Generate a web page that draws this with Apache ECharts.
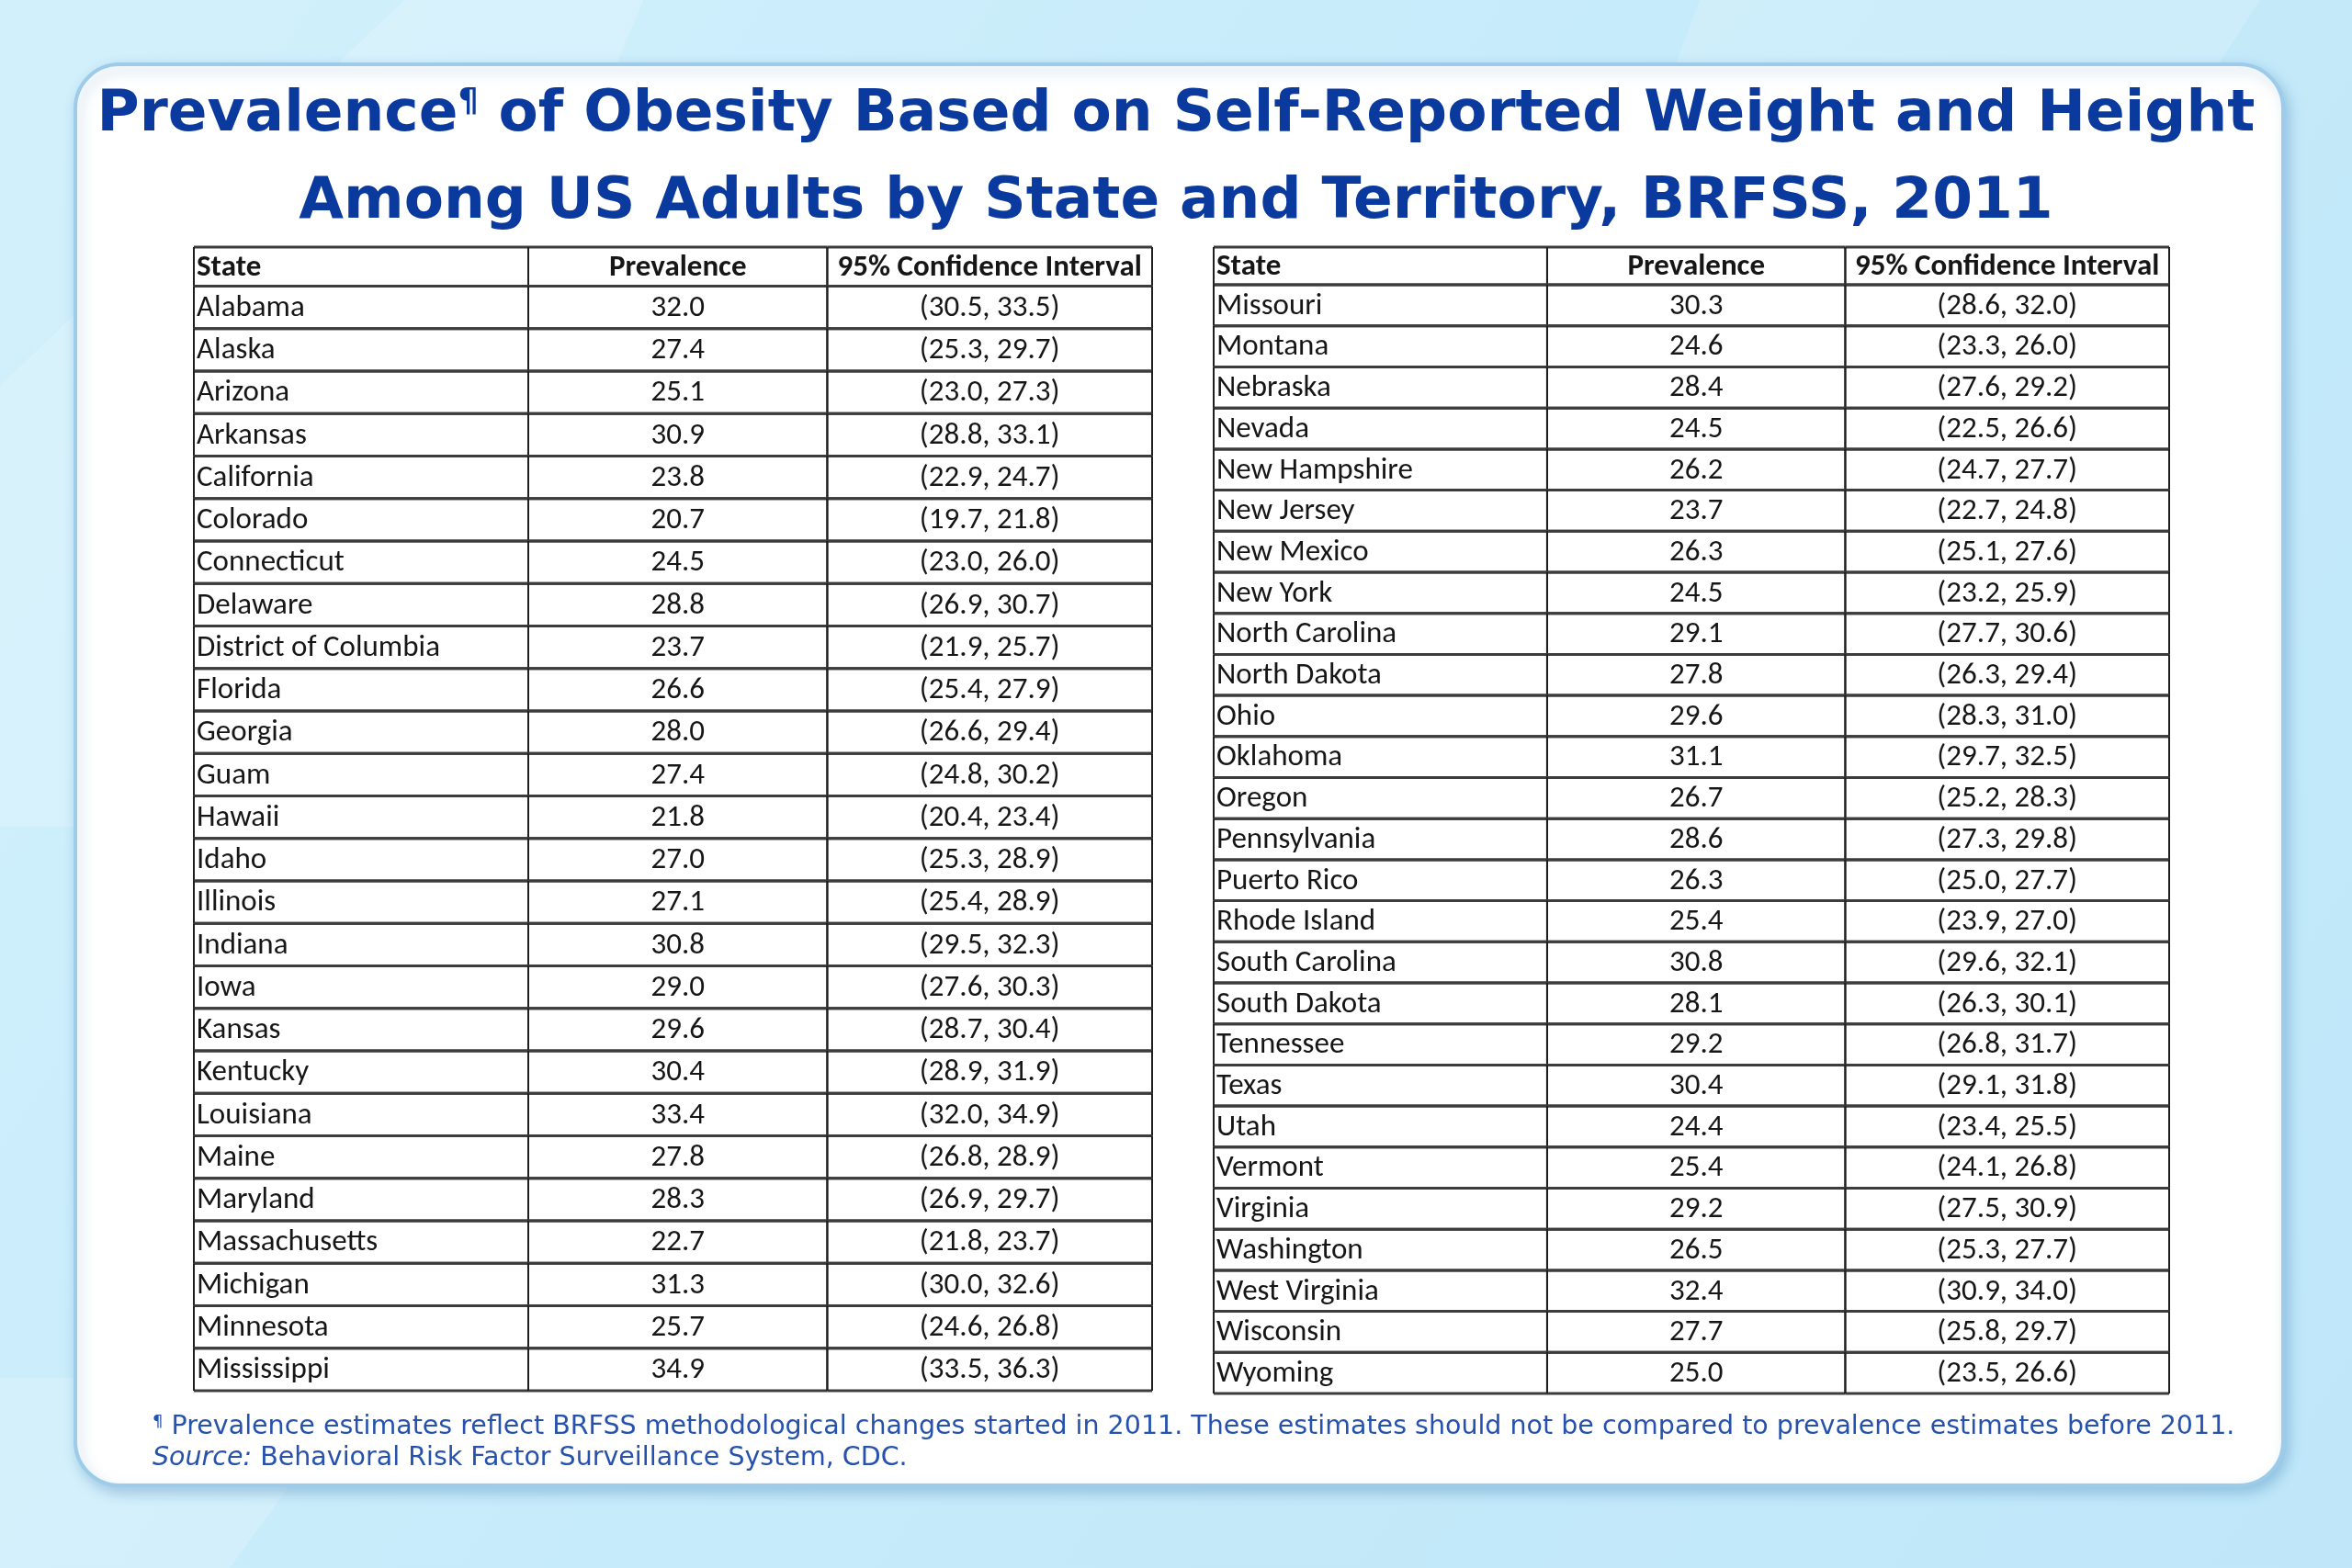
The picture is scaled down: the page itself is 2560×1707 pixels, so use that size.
<!DOCTYPE html>
<html>
<head>
<meta charset="utf-8">
<title>Prevalence of Obesity by State and Territory, BRFSS, 2011</title>
<script src="https://cdn.jsdelivr.net/npm/echarts@6/dist/echarts.min.js"></script>
<style>
  html, body { margin: 0; padding: 0; background: #c8ecfa; }
  #chart { width: 2560px; height: 1707px; }
</style>
</head>
<body>
<div id="chart"></div>
<script type="text/javascript">
// column titles of both tables
var headers = ['State', 'Prevalence', '95% Confidence Interval'];

// left table: Alabama .. Mississippi
var leftStates = ['Alabama', 'Alaska', 'Arizona', 'Arkansas', 'California', 'Colorado',
    'Connecticut', 'Delaware', 'District of Columbia', 'Florida', 'Georgia', 'Guam',
    'Hawaii', 'Idaho', 'Illinois', 'Indiana', 'Iowa', 'Kansas', 'Kentucky', 'Louisiana',
    'Maine', 'Maryland', 'Massachusetts', 'Michigan', 'Minnesota', 'Mississippi'];
var leftPrev = [32.0, 27.4, 25.1, 30.9, 23.8, 20.7, 24.5, 28.8, 23.7, 26.6, 28.0, 27.4,
    21.8, 27.0, 27.1, 30.8, 29.0, 29.6, 30.4, 33.4, 27.8, 28.3, 22.7, 31.3, 25.7, 34.9];
var leftLow = [30.5, 25.3, 23.0, 28.8, 22.9, 19.7, 23.0, 26.9, 21.9, 25.4, 26.6, 24.8,
    20.4, 25.3, 25.4, 29.5, 27.6, 28.7, 28.9, 32.0, 26.8, 26.9, 21.8, 30.0, 24.6, 33.5];
var leftHigh = [33.5, 29.7, 27.3, 33.1, 24.7, 21.8, 26.0, 30.7, 25.7, 27.9, 29.4, 30.2,
    23.4, 28.9, 28.9, 32.3, 30.3, 30.4, 31.9, 34.9, 28.9, 29.7, 23.7, 32.6, 26.8, 36.3];

// right table: Missouri .. Wyoming
var rightStates = ['Missouri', 'Montana', 'Nebraska', 'Nevada', 'New Hampshire', 'New Jersey',
    'New Mexico', 'New York', 'North Carolina', 'North Dakota', 'Ohio', 'Oklahoma', 'Oregon',
    'Pennsylvania', 'Puerto Rico', 'Rhode Island', 'South Carolina', 'South Dakota',
    'Tennessee', 'Texas', 'Utah', 'Vermont', 'Virginia', 'Washington', 'West Virginia',
    'Wisconsin', 'Wyoming'];
var rightPrev = [30.3, 24.6, 28.4, 24.5, 26.2, 23.7, 26.3, 24.5, 29.1, 27.8, 29.6, 31.1, 26.7,
    28.6, 26.3, 25.4, 30.8, 28.1, 29.2, 30.4, 24.4, 25.4, 29.2, 26.5, 32.4, 27.7, 25.0];
var rightLow = [28.6, 23.3, 27.6, 22.5, 24.7, 22.7, 25.1, 23.2, 27.7, 26.3, 28.3, 29.7, 25.2,
    27.3, 25.0, 23.9, 29.6, 26.3, 26.8, 29.1, 23.4, 24.1, 27.5, 25.3, 30.9, 25.8, 23.5];
var rightHigh = [32.0, 26.0, 29.2, 26.6, 27.7, 24.8, 27.6, 25.9, 30.6, 29.4, 31.0, 32.5, 28.3,
    29.8, 27.7, 27.0, 32.1, 30.1, 31.7, 31.8, 25.5, 26.8, 30.9, 27.7, 34.0, 29.7, 26.6];

var titleLine1 = 'of Obesity Based on Self-Reported Weight and Height';
var titleLine2 = 'Among US Adults by State and Territory, BRFSS, 2011';
var footNote = 'Prevalence estimates reflect BRFSS methodological changes started in 2011. These estimates should not be compared to prevalence estimates before 2011.';
var sourceNote = ' Behavioral Risk Factor Surveillance System, CDC.';

// layout
var COL_EDGES = [0, 0.349, 0.661, 1];   // column boundaries as share of table width
var HEADER_H = 0.92;                     // header row height in body-row units
var CELL_FONT = '33px Carlito, "Liberation Sans Narrow", "Open Sans", sans-serif';
var HEAD_FONT = 'bold 33px Carlito, "Liberation Sans Narrow", "Open Sans", sans-serif';
var TITLE_FONT = '"DejaVu Sans", Verdana, sans-serif';
var TITLE_BLUE = '#0b3a9f';
var NOTE_BLUE = '#2652ad';

function buildCells(states, prev, low, high) {
    var cells = [];
    headers.forEach(function (h, c) {
        cells.push({ value: [c, 0], text: h, head: true });
    });
    states.forEach(function (s, i) {
        cells.push({ value: [0, i + 1], text: s });
        cells.push({ value: [1, i + 1], text: prev[i].toFixed(1) });
        cells.push({ value: [2, i + 1], text: '(' + low[i].toFixed(1) + ', ' + high[i].toFixed(1) + ')' });
    });
    return cells;
}

function tableSeries(gridIndex, cells) {
    return {
        type: 'custom',
        xAxisIndex: gridIndex,
        yAxisIndex: gridIndex,
        silent: true,
        clip: false,
        data: cells,
        renderItem: function (params, api) {
            var c = api.value(0), r = api.value(1);
            var cell = cells[params.dataIndex];
            var yTop = r === 0 ? 0 : HEADER_H + r - 1;
            var yBot = r === 0 ? HEADER_H : HEADER_H + r;
            var p0 = api.coord([COL_EDGES[c], yTop]);
            var p1 = api.coord([COL_EDGES[c + 1], yBot]);
            var hLine = { stroke: '#3c3c3c', lineWidth: 3 };
            var vLine = { stroke: '#1e1e1e', lineWidth: 2 };
            var left = c === 0;
            return {
                type: 'group',
                children: [
                    { type: 'line', shape: { x1: p0[0], y1: p0[1], x2: p1[0], y2: p0[1] }, style: hLine },
                    { type: 'line', shape: { x1: p0[0], y1: p1[1], x2: p1[0], y2: p1[1] }, style: hLine },
                    { type: 'line', shape: { x1: p0[0], y1: p0[1], x2: p0[0], y2: p1[1] }, style: vLine },
                    { type: 'line', shape: { x1: p1[0], y1: p0[1], x2: p1[0], y2: p1[1] }, style: vLine },
                    {
                        type: 'text',
                        style: {
                            text: cell.text,
                            x: left ? p0[0] + 3 : (p0[0] + p1[0]) / 2,
                            y: (p0[1] + p1[1]) / 2 + 1,
                            align: left ? 'left' : 'center',
                            verticalAlign: 'middle',
                            font: cell.head ? HEAD_FONT : CELL_FONT,
                            fill: '#161616'
                        }
                    }
                ]
            };
        }
    };
}

var leftCells = buildCells(leftStates, leftPrev, leftLow, leftHigh);
var rightCells = buildCells(rightStates, rightPrev, rightLow, rightHigh);

var myChart = echarts.init(document.getElementById('chart'), null, { renderer: 'canvas' });

var titleText = { fontFamily: TITLE_FONT, fontWeight: 'bold', fontSize: 63, lineHeight: 95, color: TITLE_BLUE };
var noteText = { fontFamily: TITLE_FONT, fontWeight: 'normal', fontSize: 28.5, lineHeight: 34, color: NOTE_BLUE };

var option = {
    backgroundColor: {
        type: 'linear', x: 0, y: 0, x2: 1, y2: 1,
        colorStops: [
            { offset: 0, color: '#d2f0fc' },
            { offset: 0.5, color: '#c6ebfa' },
            { offset: 1, color: '#bfe7f9' }
        ]
    },
    animation: false,
    graphic: [
        // soft diagonal light bands of the slide background
        { type: 'polygon', z: 0, silent: true,
          shape: { points: [[440, 0], [700, 0], [330, 900], [0, 900], [0, 420]] },
          style: { fill: 'rgba(255,255,255,0.18)' } },
        { type: 'polygon', z: 0, silent: true,
          shape: { points: [[1850, 0], [2460, 0], [2200, 400], [1700, 400]] },
          style: { fill: 'rgba(255,255,255,0.16)' } },
        { type: 'polygon', z: 0, silent: true,
          shape: { points: [[0, 1500], [400, 1500], [250, 1707], [0, 1707]] },
          style: { fill: 'rgba(255,255,255,0.18)' } },
        // white rounded panel
        { type: 'rect', z: 1, silent: true,
          shape: { x: 82, y: 70, width: 2403, height: 1547, r: 48 },
          style: {
              fill: '#ffffff', stroke: '#9dcbea', lineWidth: 4,
              shadowBlur: 14, shadowOffsetX: 4, shadowOffsetY: 6,
              shadowColor: 'rgba(70,130,180,0.35)'
          } }
    ],
    title: [
        {
            left: 'center',
            top: 78,
            padding: 0,
            text: '{t|Prevalence}{s|¶}{t| ' + titleLine1 + '}',
            textStyle: {
                rich: {
                    t: titleText,
                    s: {
                        fontFamily: TITLE_FONT, fontWeight: 'bold', fontSize: 35,
                        lineHeight: 40, padding: [0, 0, 28, 0], color: TITLE_BLUE
                    }
                }
            }
        },
        {
            left: 'center',
            top: 173,
            padding: 0,
            text: '{t|' + titleLine2 + '}',
            textStyle: { rich: { t: titleText } }
        },
        {
            left: 166,
            top: 1537,
            padding: 0,
            text: '{p|¶}{n| ' + footNote + '}\n{i|Source:}{n|' + sourceNote + '}',
            textStyle: {
                fontWeight: 'normal',
                rich: {
                    n: noteText,
                    i: { fontFamily: TITLE_FONT, fontWeight: 'normal', fontStyle: 'italic',
                         fontSize: 28.5, lineHeight: 34, color: NOTE_BLUE },
                    p: { fontFamily: TITLE_FONT, fontWeight: 'normal', fontSize: 18,
                         lineHeight: 20, padding: [0, 0, 12, 0], color: NOTE_BLUE }
                }
            }
        }
    ],
    grid: [
        { left: 211, top: 269, width: 1043, height: 1245 },
        { left: 1321, top: 269, width: 1040, height: 1248 }
    ],
    xAxis: [
        { gridIndex: 0, type: 'value', min: 0, max: 1, show: false },
        { gridIndex: 1, type: 'value', min: 0, max: 1, show: false }
    ],
    yAxis: [
        { gridIndex: 0, type: 'value', min: 0, max: HEADER_H + leftStates.length, inverse: true, show: false },
        { gridIndex: 1, type: 'value', min: 0, max: HEADER_H + rightStates.length, inverse: true, show: false }
    ],
    series: [
        tableSeries(0, leftCells),
        tableSeries(1, rightCells)
    ]
};

myChart.setOption(option);
</script>
</body>
</html>
